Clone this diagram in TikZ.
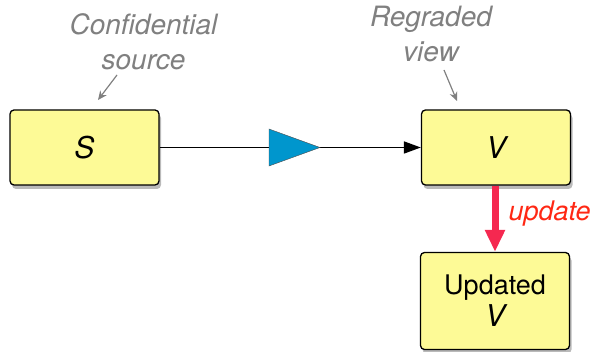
\documentclass[tikz,border=0pt]{standalone}
\usepackage{fontspec}
\setmainfont{TeX Gyre Heros}
\usetikzlibrary{arrows.meta,shadows}

\definecolor{boxyellow}{RGB}{253,250,150}
\definecolor{tipblue}{RGB}{0,150,205}
\definecolor{updred}{RGB}{245,40,80}
\definecolor{updtext}{RGB}{255,40,20}
\definecolor{notegray}{RGB}{128,128,128}

\tikzset{
  viewbox/.style={draw=black, line width=1.3pt, fill=boxyellow, rounded corners=4pt,
    minimum width=149pt, align=center,
    drop shadow={shadow xshift=2pt, shadow yshift=-4pt, opacity=.45, fill=black!60}},
  note/.style={text=notegray, font=\fontsize{28}{35}\selectfont\itshape, align=center},
  notearrow/.style={draw=notegray, line width=1.2pt, -{Stealth[length=9pt,width=8pt]}},
}

\begin{document}
\begin{tikzpicture}[x=1pt,y=1pt, font=\fontsize{27}{34}\selectfont]
    \useasboundingbox (0,0) rectangle (594,352);
    % boxes
    \node[viewbox, minimum height=75pt, font=\fontsize{30}{34}\selectfont\itshape] (src) at (84.5,204.5) {S};
    \node[viewbox, minimum height=75pt, font=\fontsize{30}{34}\selectfont\itshape] (view) at (496,204.5) {V};
    \node[viewbox, minimum height=97pt] (upd) at (495,51) {Updated\\[-2pt]{\fontsize{30}{34}\selectfont\itshape V}};
    % notes above the boxes
    \node[note] (srcnote) at (143.5,310) {Confidential\\source};
    \node[note] (viewnote) at (431,318) {Regraded\\view};
    \coordinate (srchead) at (117,277);
    \coordinate (srcfoot) at (98,252);
    \coordinate (viewhead) at (444,282);
    \coordinate (viewfoot) at (457,251);
    \draw[notearrow] (srchead) -- (srcfoot);
    \draw[notearrow] (viewhead) -- (viewfoot);
    % flow from source to view
    \draw[line width=1.7pt, -{Triangle[length=17pt,width=12pt]}] (src) -- (view);
    \fill[tipblue, draw=black!70, line width=.4pt] (269,223) -- (320,204.5) -- (269,186) -- cycle;
    % update
    \draw[updred, line width=7pt, -{Triangle[length=22pt,width=19pt]}] (view.south -| upd.north) -- (upd.north);
    \node[text=updtext, anchor=west, font=\fontsize{27}{34}\selectfont\itshape] (updlabel) at (505,138) {update};
\end{tikzpicture}
\end{document}
